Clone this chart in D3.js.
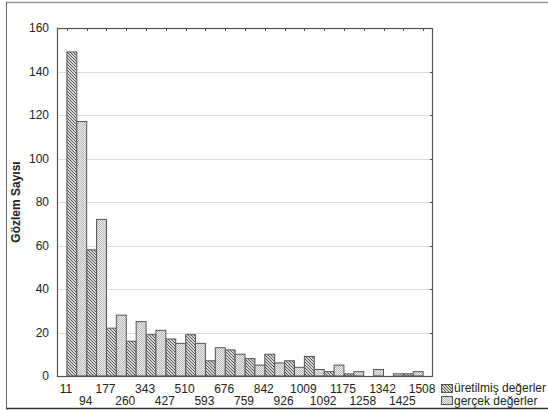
<!DOCTYPE html>
<html>
<head>
<meta charset="utf-8">
<script src="https://cdn.jsdelivr.net/npm/d3@7/dist/d3.min.js"></script>
<style>
  html, body { margin: 0; padding: 0; background: #fff; }
  svg { display: block; font-family: "Liberation Sans", Arial, sans-serif; }
</style>
</head>
<body>
<svg id="chart" width="548" height="410"></svg>
<script>
// Bin labels along the x axis
const categories = ["11", "94", "177", "260", "343", "427", "510", "593", "676", "759",
                    "842", "926", "1009", "1092", "1175", "1258", "1342", "1425", "1508"];
// Observation counts per bin
const generatedValues = [149, 58, 22, 16, 19, 17, 19, 7, 12, 8, 10, 7, 9, 2, 1, 0, 0, 1, 0];
const actualValues    = [117, 72, 28, 25, 21, 15, 15, 13, 10, 5, 6, 4, 3, 5, 2, 3, 1, 2, 0];
const seriesNames = ["üretilmiş değerler", "gerçek değerler"];
const yTicks = [0, 20, 40, 60, 80, 100, 120, 140, 160];

const svg = d3.select("#chart");
const plot = { left: 57, right: 433, top: 28, bottom: 376 };

// Fill patterns: diagonal hatch and fine dotted screen
const defs = svg.append("defs");
const hatch = defs.append("pattern")
  .attr("id", "hatch").attr("patternUnits", "userSpaceOnUse")
  .attr("width", 3).attr("height", 3);
hatch.append("rect").attr("width", 3).attr("height", 3).attr("fill", "#d8d8d8");
hatch.append("path").attr("d", "M-1,-1 L4,4 M-1,2 L1,4 M2,-1 L4,1")
  .attr("stroke", "#555").attr("stroke-width", 1);

const dots = defs.append("pattern")
  .attr("id", "dots").attr("patternUnits", "userSpaceOnUse")
  .attr("width", 2).attr("height", 2);
dots.append("rect").attr("width", 2).attr("height", 2).attr("fill", "#ececec");
dots.append("rect").attr("width", 1).attr("height", 1).attr("fill", "#b8b8b8");
dots.append("rect").attr("x", 1).attr("y", 1).attr("width", 1).attr("height", 1).attr("fill", "#b8b8b8");

// Outer frame
svg.append("line").attr("x1", 6).attr("x2", 548).attr("y1", 2.5).attr("y2", 2.5)
  .attr("stroke", "#999").attr("stroke-width", 1.5);
svg.append("line").attr("x1", 6.5).attr("x2", 6.5).attr("y1", 2).attr("y2", 408)
  .attr("stroke", "#666").attr("stroke-width", 1);
svg.append("line").attr("x1", 6).attr("x2", 548).attr("y1", 408.5).attr("y2", 408.5)
  .attr("stroke", "#333").attr("stroke-width", 1.5);

// Scales
const x = d3.scaleBand().domain(categories).range([plot.left, plot.right]).padding(0);
const bw = x.bandwidth();
const xc = c => x(c) + bw / 2;
const y = d3.scaleLinear().domain([0, 160]).range([plot.bottom, plot.top]);

// Gridlines
svg.append("g").selectAll("line")
  .data(yTicks.filter(v => v > 0 && v < 160))
  .join("line")
  .attr("x1", plot.left).attr("x2", plot.right)
  .attr("y1", d => Math.round(y(d)) + 0.5).attr("y2", d => Math.round(y(d)) + 0.5)
  .attr("stroke", "#dcdcdc").attr("stroke-width", 1);

// Bars: each series occupies half of the band, starting at the bin label
const bars = svg.append("g");
const series = [
  { values: generatedValues, fill: "url(#hatch)", offset: 0 },
  { values: actualValues, fill: "url(#dots)", offset: 1 }
];
series.forEach(s => {
  bars.append("g").selectAll("rect")
    .data(categories.map((c, i) => ({ c, v: s.values[i] })).filter(d => d.v > 0))
    .join("rect")
    .attr("x", d => xc(d.c) + s.offset * bw / 2)
    .attr("width", bw / 2)
    .attr("y", d => y(d.v))
    .attr("height", d => y(0) - y(d.v))
    .attr("fill", s.fill)
    .attr("stroke", "#555")
    .attr("stroke-width", 1);
});

// Plot box
svg.append("rect")
  .attr("x", plot.left + 0.5).attr("y", plot.top + 0.5)
  .attr("width", plot.right - plot.left - 1).attr("height", plot.bottom - plot.top)
  .attr("fill", "none").attr("stroke", "#555").attr("stroke-width", 1.2);

// Inner tick marks on top and right edges
svg.append("g").selectAll("line").data(categories).join("line")
  .attr("x1", d => Math.round(xc(d)) + 0.5).attr("x2", d => Math.round(xc(d)) + 0.5)
  .attr("y1", plot.top).attr("y2", plot.top + 3)
  .attr("stroke", "#555");
svg.append("g").selectAll("line").data(yTicks.filter(v => v > 0 && v < 160)).join("line")
  .attr("x1", plot.right - 3).attr("x2", plot.right)
  .attr("y1", d => Math.round(y(d)) + 0.5).attr("y2", d => Math.round(y(d)) + 0.5)
  .attr("stroke", "#555");

// Y axis labels
svg.append("g").selectAll("text").data(yTicks).join("text")
  .attr("x", 49).attr("y", d => y(d) + 4)
  .attr("text-anchor", "end")
  .attr("font-size", 12).attr("fill", "#222")
  .text(d => d);

// Y axis title
svg.append("text")
  .attr("transform", "translate(20,202) rotate(-90)")
  .attr("text-anchor", "middle")
  .attr("font-size", 12).attr("font-weight", "bold").attr("fill", "#222")
  .text("Gözlem Sayısı");

// X axis labels on two staggered rows
svg.append("g").selectAll("text").data(categories).join("text")
  .attr("x", d => xc(d) - 1)
  .attr("y", (d, i) => i % 2 === 0 ? 393 : 405)
  .attr("text-anchor", "middle")
  .attr("font-size", 12).attr("fill", "#222")
  .text(d => d);

// Legend
const legend = svg.append("g");
series.forEach((s, i) => {
  legend.append("rect")
    .attr("x", 441.5).attr("y", 384.5 + i * 12)
    .attr("width", 11).attr("height", 8)
    .attr("fill", s.fill).attr("stroke", "#555");
  legend.append("text")
    .attr("x", 454).attr("y", 391.5 + i * 13)
    .attr("font-size", 12).attr("fill", "#222")
    .text(seriesNames[i]);
});
</script>
</body>
</html>
